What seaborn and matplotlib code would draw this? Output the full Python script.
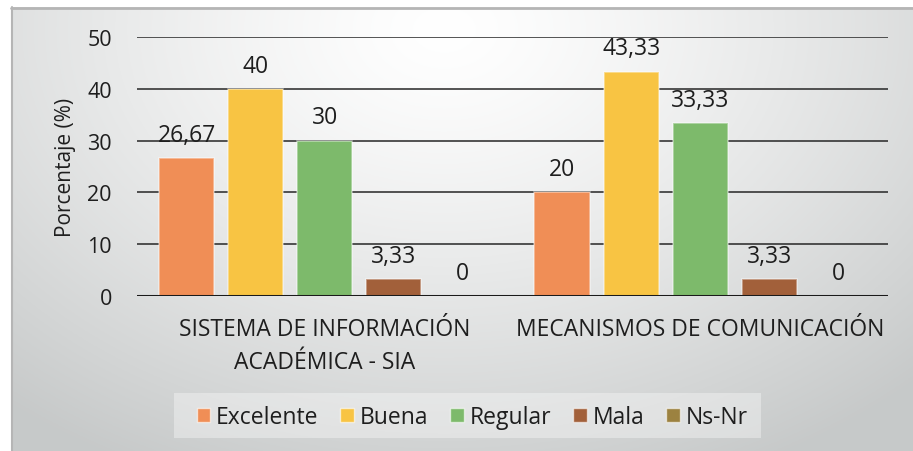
import numpy as np
import pandas as pd
import matplotlib
matplotlib.use("Agg")
import matplotlib.pyplot as plt
import seaborn as sns

categorias = ["SISTEMA DE INFORMACIÓN\nACADÉMICA - SIA", "MECANISMOS DE COMUNICACIÓN"]
niveles = ["Excelente", "Buena", "Regular", "Mala", "Ns-Nr"]
excelente = [26.67, 20]
buena = [40, 43.33]
regular = [30, 33.33]
mala = [3.33, 3.33]
ns_nr = [0, 0]
colores = ["#F08E56", "#F8C443", "#7DBA6B", "#A2603A", "#9C8240"]
y_ticks = [0, 10, 20, 30, 40, 50]

sns.set_theme(style="white")
plt.rcParams["font.family"] = ["Open Sans", "DejaVu Sans"]

series = [excelente, buena, regular, mala, ns_nr]
df = pd.DataFrame(
    [(c, n, v[i]) for n, v in zip(niveles, series) for i, c in enumerate(categorias)],
    columns=["categoria", "nivel", "valor"],
)

W, H = 913, 452
fig = plt.figure(figsize=(W / 100, H / 100), dpi=100)
fig.patch.set_facecolor("white")

# soft radial background panel
bg = fig.add_axes([11 / W, 0, 1 - 11 / W, 1 - 8 / H])
ny, nx = 300, 600
yy, xx = np.mgrid[0:ny, 0:nx]
u = xx / (nx - 1)
v = yy / (ny - 1)
r = np.sqrt(((u - 0.48) / 0.75) ** 2 + ((v - 0.05) / 1.1) ** 2)
r = np.clip(r, 0, 1)
light = np.array([1.0, 1.0, 1.0])
dark = np.array([0.78, 0.79, 0.79])
img = light + (dark - light) * (r[..., None] ** 1.3)
bg.imshow(img, aspect="auto", extent=[0, 1, 0, 1])
bg.set_axis_off()
# thin frame on top and left
fig.add_artist(plt.Line2D([11 / W, 1], [1 - 8.5 / H, 1 - 8.5 / H], color="#b5b5b5", lw=2))
fig.add_artist(plt.Line2D([11.5 / W, 11.5 / W], [0, 1 - 8 / H], color="#b5b5b5", lw=1.5))

# translucent legend panel
fig.add_artist(plt.Rectangle((174 / W, 1 - 439 / H), (761 - 174) / W, 45 / H,
                             transform=fig.transFigure, facecolor=(1, 1, 1, 0.35),
                             edgecolor="none", zorder=1))

ax = fig.add_axes([137 / W, (H - 297) / H, (888 - 137) / W, (297 - 38) / H])
ax.patch.set_alpha(0)

sns.barplot(
    data=df, x="categoria", y="valor", hue="nivel",
    order=categorias, hue_order=niveles, palette=colores, saturation=1,
    width=0.92, gap=0.2, ax=ax, legend=False,
    edgecolor=(1, 1, 1, 0.45), linewidth=1.2,
)

def fmt(x):
    if abs(x - round(x)) < 1e-9:
        return f"{int(round(x))}"
    return f"{x:.2f}".replace(".", ",")

for cont, vals in zip(ax.containers, series):
    ax.bar_label(cont, labels=[fmt(x) for x in vals], padding=8,
                 fontsize=16.5, color="#1e1e1e")

ax.set_ylim(0, 50)
ax.set_yticks(y_ticks)
ax.yaxis.grid(True, color="#262626", lw=1.1)
ax.set_axisbelow(True)
ax.axhline(0, color="#1a1a1a", lw=2.2, zorder=5)
for s in ax.spines.values():
    s.set_visible(False)
ax.tick_params(axis="y", length=0, pad=18, labelsize=15.5, labelcolor="#1e1e1e")
ax.tick_params(axis="x", length=0, pad=15, labelsize=16.5, labelcolor="#1e1e1e")
for t in ax.get_xticklabels():
    t.set_linespacing(1.5)
ax.set_xlabel("")
ax.set_ylabel("Porcentaje (%)", fontsize=15, color="#1e1e1e", labelpad=8)

handles = [plt.Rectangle((0, 0), 1, 1, facecolor=c, edgecolor=(1, 1, 1, 0.6), lw=1)
           for c in colores]
leg = fig.legend(
    handles, niveles, loc="center", bbox_to_anchor=(472 / W, 1 - 418 / H),
    ncol=5, frameon=False, fontsize=16.5, handlelength=0.6, handleheight=0.6,
    handletextpad=0.25, columnspacing=0.95, borderpad=0.3,
)
for t in leg.get_texts():
    t.set_color("#1e1e1e")

fig.savefig("out.png", dpi=100)
